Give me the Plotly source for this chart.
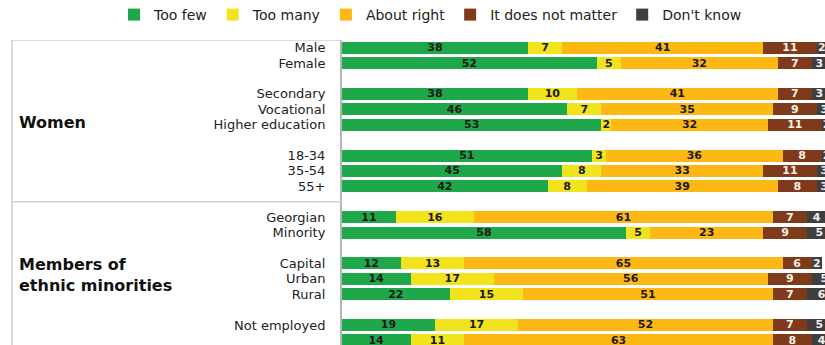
import plotly.graph_objects as go

categories = ["Male", "Female", None, "Secondary", "Vocational", "Higher education", None,
              "18-34", "35-54", "55+", None, "Georgian", "Minority", None,
              "Capital", "Urban", "Rural", None, "Not employed", "Employed"]

too_few     = [38, 52, None, 38, 46, 53, None, 51, 45, 42, None, 11, 58, None, 12, 14, 22, None, 19, 14]
too_many    = [7, 5, None, 10, 7, 2, None, 3, 8, 8, None, 16, 5, None, 13, 17, 15, None, 17, 11]
about_right = [41, 32, None, 41, 35, 32, None, 36, 33, 39, None, 61, 23, None, 65, 56, 51, None, 52, 63]
not_matter  = [11, 7, None, 7, 9, 11, None, 8, 11, 8, None, 7, 9, None, 6, 9, 7, None, 7, 8]
dont_know   = [2, 3, None, 3, 3, 2, None, 2, 3, 3, None, 4, 5, None, 2, 5, 6, None, 5, 4]

series_names = ["Too few", "Too many", "About right", "It does not matter", "Don't know"]
series_values = [too_few, too_many, about_right, not_matter, dont_know]
colors = ["#1fa84a", "#f2e41c", "#fdb813", "#7e3a1a", "#3f3f3f"]
text_colors = ["#1a1a1a", "#1a1a1a", "#1a1a1a", "#f5f0e6", "#f0f0f0"]

group_labels = ["Women", "Members of<br>ethnic minorities"]
group_rows = [4.88, 14.75]

ypos = list(range(len(categories)))
tick_pos = [i for i, c in zip(ypos, categories) if c]
tick_txt = [c for c in categories if c]

XMAX = 100.5
PX_PER_UNIT = 4.9
PL = 342
PW = round(XMAX * PX_PER_UNIT)
W, H = PL + PW, 345
PT = 40

fig = go.Figure()
for name, vals, col, tcol in zip(series_names, series_values, colors, text_colors):
    fig.add_trace(go.Bar(
        x=vals, y=ypos, orientation="h", name=name,
        marker=dict(color=col, line=dict(width=0)),
        text=[("" if v is None else str(v)) for v in vals],
        textposition="inside", insidetextanchor="middle", textangle=0,
        textfont=dict(family="DejaVu Sans", size=11, color=tcol, weight="bold"),
        hoverinfo="skip",
    ))

def px2paper(p):
    return (p - PL) / PW

shapes = [
    dict(type="line", xref="paper", yref="y", x0=px2paper(12), x1=0, y0=-0.5, y1=-0.5,
         line=dict(color="#cfcfcf", width=1.5)),
    dict(type="line", xref="paper", yref="y", x0=px2paper(12), x1=0, y0=10, y1=10,
         line=dict(color="#cfcfcf", width=1.5)),
    dict(type="line", xref="paper", yref="y", x0=px2paper(12), x1=px2paper(12), y0=-0.5, y1=20,
         line=dict(color="#cfcfcf", width=1.5)),
]

annotations = [
    dict(text=t, xref="paper", yref="y", x=px2paper(17), y=r, xanchor="left", yanchor="middle",
         align="left", showarrow=False,
         font=dict(family="DejaVu Sans", size=16, color="#111111", weight="bold"))
    for t, r in zip(group_labels, group_rows)
]

fig.update_layout(
    width=W, height=H,
    margin=dict(l=PL, r=0, t=PT, b=0, autoexpand=False),
    barmode="stack", bargap=0.22,
    plot_bgcolor="white", paper_bgcolor="white",
    uniformtext=dict(mode="show", minsize=11),
    showlegend=True,
    legend=dict(orientation="h", x=px2paper(114), xanchor="left",
                y=1 + (PT - 15) / (H - PT), yanchor="middle",
                font=dict(family="DejaVu Sans", size=14, color="#222222"),
                traceorder="normal", itemwidth=30, bgcolor="rgba(0,0,0,0)"),
    xaxis=dict(range=[0, XMAX], visible=False, fixedrange=True),
    yaxis=dict(range=[19.3, -0.5], tickvals=tick_pos, ticktext=tick_txt,
               ticks="outside", ticklen=12, tickcolor="rgba(0,0,0,0)",
               showline=True, linecolor="#b5b5b5", linewidth=2, showgrid=False, zeroline=False,
               tickfont=dict(family="DejaVu Sans", size=13, color="#222222"), fixedrange=True),
    shapes=shapes, annotations=annotations,
)

fig.write_html("out.html", config={"displayModeBar": False},
               post_script="document.body.style.margin='0';document.body.style.overflow='hidden';")
